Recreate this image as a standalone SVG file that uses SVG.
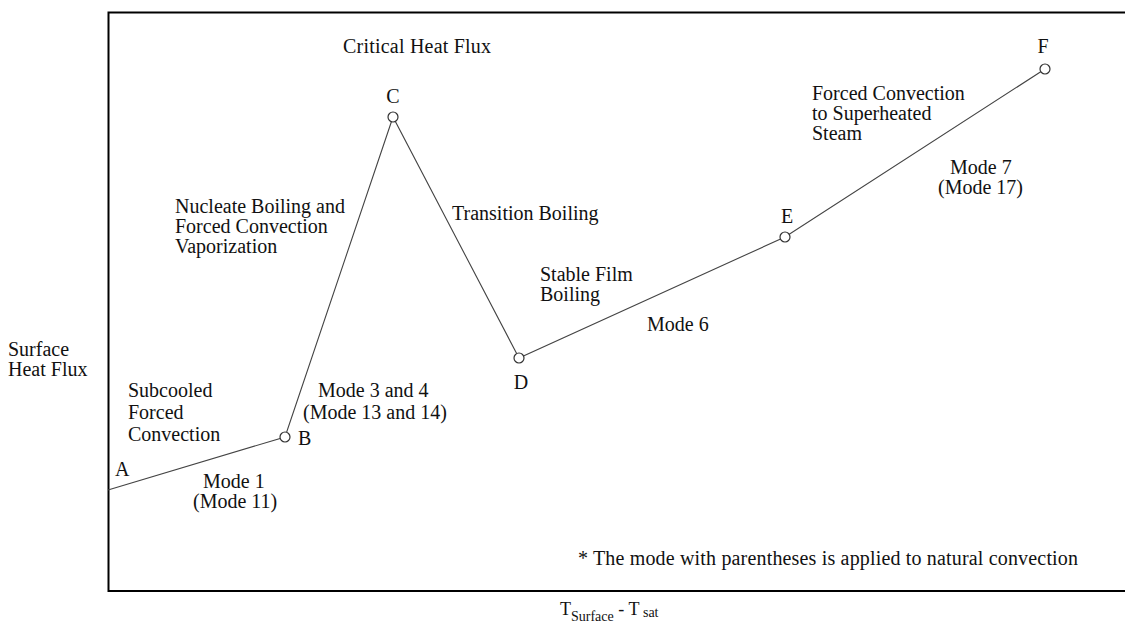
<svg xmlns="http://www.w3.org/2000/svg" width="1128" height="627" viewBox="0 0 1128 627">
<style>
text{font-family:"Liberation Serif","Times New Roman",serif;font-size:20px;fill:#111}
.sub{font-size:14px}
.pt{fill:#fff;stroke:#333;stroke-width:1.2}
.curve{stroke:#444;stroke-width:1.1;fill:none}
.axis{stroke:#000;stroke-width:2;fill:none}
</style>
<rect width="1128" height="627" fill="#fff"/>
<g id="axes">
<path class="axis" d="M1125,12.5 H108.5 V591 H1125"/>
</g>
<g id="connectors">
<polyline class="curve" points="108,490 285,437 393,117 519,358 785,237 1045,69"/>
</g>
<g id="node-A"><text x="115" y="476">A</text></g>
<g id="node-B"><circle class="pt" cx="285" cy="437" r="5"/><text x="298" y="445">B</text></g>
<g id="node-C"><circle class="pt" cx="393" cy="117" r="5"/><text x="393" y="103" text-anchor="middle">C</text></g>
<g id="node-D"><circle class="pt" cx="519" cy="358" r="5"/><text x="521" y="389" text-anchor="middle">D</text></g>
<g id="node-E"><circle class="pt" cx="785" cy="237" r="5"/><text x="787" y="223" text-anchor="middle">E</text></g>
<g id="node-F"><circle class="pt" cx="1045" cy="69" r="5"/><text x="1043" y="53" text-anchor="middle">F</text></g>
<g id="label-chf"><text x="343" y="53" textLength="148">Critical Heat Flux</text></g>
<g id="label-nucleate"><text x="175" y="213">Nucleate Boiling and</text><text x="175" y="233">Forced Convection</text><text x="175" y="253">Vaporization</text></g>
<g id="label-transition"><text x="452" y="220">Transition Boiling</text></g>
<g id="label-film"><text x="540" y="281">Stable Film</text><text x="540" y="301">Boiling</text></g>
<g id="label-mode6"><text x="647" y="331">Mode 6</text></g>
<g id="label-mode34"><text x="318" y="397">Mode 3 and 4</text><text x="303" y="419">(Mode 13 and 14)</text></g>
<g id="label-subcooled"><text x="128" y="397">Subcooled</text><text x="128" y="419">Forced</text><text x="128" y="441">Convection</text></g>
<g id="label-mode1"><text x="203" y="488">Mode 1</text><text x="193" y="508">(Mode 11)</text></g>
<g id="label-superheated"><text x="812" y="100">Forced Convection</text><text x="812" y="120">to Superheated</text><text x="812" y="140">Steam</text></g>
<g id="label-mode7"><text x="950" y="174">Mode 7</text><text x="938" y="194">(Mode 17)</text></g>
<g id="label-note"><text x="578" y="565" textLength="500">* The mode with parentheses is applied to natural convection</text></g>
<g id="label-yaxis"><text x="8" y="356">Surface</text><text x="8" y="376">Heat Flux</text></g>
<g id="label-xaxis"><text x="560" y="615" style="font-size:18px">T<tspan class="sub" dy="6">Surface</tspan><tspan dy="-6" style="font-size:18px"> - T</tspan><tspan class="sub" dy="2"> sat</tspan></text></g>
</svg>
